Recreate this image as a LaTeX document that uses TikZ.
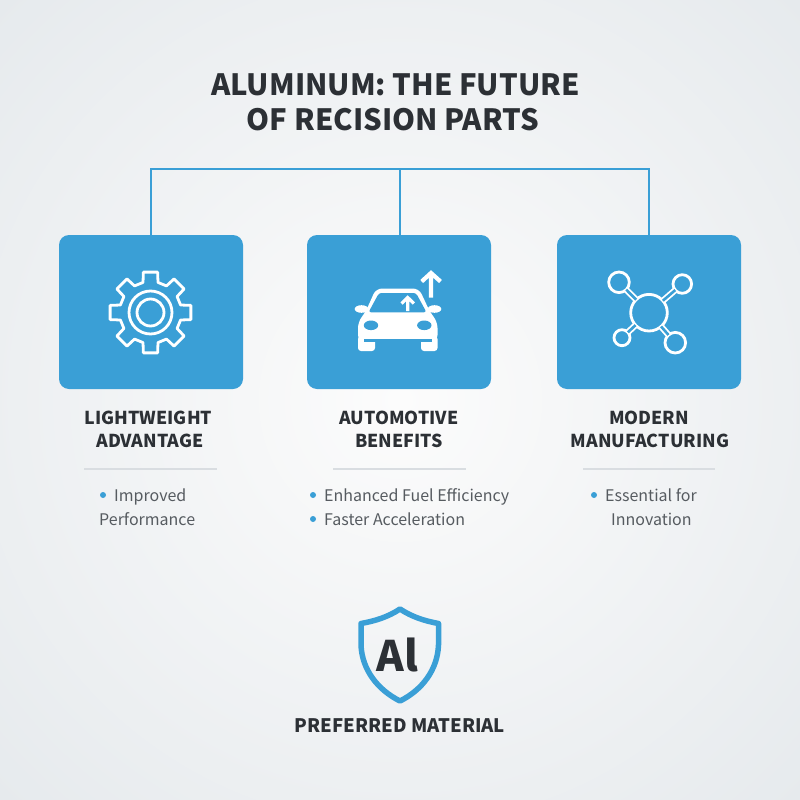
\documentclass[tikz,border=0pt]{standalone}
\usepackage{fontspec}
\setmainfont{Noto Sans CJK KR}
\usetikzlibrary{
    calc,
    positioning
}
\definecolor{alublue}{HTML}{3A9FD6}
\definecolor{aluink}{HTML}{2C3035}
\definecolor{alubody}{HTML}{565B60}
\definecolor{alurule}{HTML}{D9DDE1}
\definecolor{alushade}{HTML}{E6EAED}
\definecolor{alumid}{HTML}{FCFCFC}
\tikzset{
    titletext/.style={anchor=base, inner sep=0pt, text=aluink, font=\fontsize{29.3}{29.3}\selectfont\bfseries},
    headtext/.style={anchor=base, inner sep=0pt, text=aluink, font=\fontsize{17.8}{17.8}\selectfont\bfseries},
    bodytext/.style={anchor=base west, inner sep=0pt, text=alubody, font=\fontsize{16}{16}\selectfont},
    iconbox/.style={rectangle, fill=alublue, rounded corners=10pt, minimum width=184pt, minimum height=154pt, inner sep=0pt, outer sep=0pt},
    bulletdot/.style={circle, fill=alublue, minimum size=6pt, inner sep=0pt},
    iconline/.style={draw=white, line width=2.8pt, line join=round},
    ringnode/.style={circle, draw=white, line width=2.8pt, inner sep=0pt, outer sep=0pt},
    linkline/.style={draw=white, line width=1.8pt, double=alublue, double distance=2.6pt},
    branch/.style={draw=alublue, line width=2pt},
    rulerline/.style={draw=alurule, line width=1.5pt}
}
\begin{document}
\begin{tikzpicture}[x=1pt, y=-1pt]
    \useasboundingbox (0,0) rectangle (800,800);
    \begin{scope}
        \clip (0,0) rectangle (800,800);
        \shade[inner color=alumid, outer color=alushade] (-166,-166) rectangle (966,966);
    \end{scope}
    % title
    \node[titletext] (title1) at (395.5,95) {ALUMINUM: THE FUTURE};
    \node[titletext] (title2) at (393,130) {OF RECISION PARTS};
    % boxes
    \node[iconbox] (lightbox) at (151,312) {};
    \node[iconbox] (autobox) at (399,312) {};
    \node[iconbox] (manubox) at (649,312) {};
    % branch lines
    \coordinate (hub) at (400,169);
    \draw[branch] (lightbox.north) |- (hub) -| (manubox.north);
    \draw[branch] (hub) -- (hub |- autobox.north);
    % gear
    \begin{scope}[shift={(150.5,312.5)}]
        \draw[iconline] (-14:31) \foreach \a in {0,45,...,315} {
            -- (\a-14:31) -- (\a-10:41) -- (\a+10:41) -- (\a+14:31)
        } -- cycle;
        \draw[iconline] (0,0) circle (21.5);
        \draw[iconline] (0,0) circle (13.5);
    \end{scope}
    % car
    \fill[white, rounded corners=6pt] (376,288.5) -- (419,288.5) -- (430,312) -- (437.5,322) -- (437.5,341) -- (358,341) -- (358,322) -- (365.5,312) -- cycle;
    \fill[alublue, rounded corners=2.5pt] (379,293) -- (416,293) -- (426.5,312.3) -- (368.5,312.3) -- cycle;
    \fill[white] (361.5,309) ellipse (6.8 and 3.8);
    \fill[white] (434.5,309) ellipse (6.8 and 3.8);
    \fill[alublue] (371,325.3) ellipse (7.2 and 4.8);
    \fill[alublue] (424.3,325.3) ellipse (7.2 and 4.8);
    \fill[white, rounded corners=3pt] (358,336) rectangle (375,351);
    \fill[white, rounded corners=3pt] (421,336) rectangle (437.5,351);
    \fill[alublue] (364,339.2) rectangle (432,341.8);
    \draw[white, line width=3.2pt] (407.7,311) -- (407.7,298) (401.5,303.5) -- (407.7,297.5) -- (413.9,303.5);
    \draw[white, line width=4.2pt] (431,297.7) -- (431,274) (421.7,281.5) -- (431,273) -- (440.5,281.5);
    % network
    \node[ringnode, minimum size=36.6pt] (hubring) at (649,312.7) {};
    \node[ringnode, minimum size=20.6pt] (ringa) at (619,282.3) {};
    \node[ringnode, minimum size=18.6pt] (ringb) at (682.3,284) {};
    \node[ringnode, minimum size=16pt] (ringc) at (622,337.7) {};
    \node[ringnode, minimum size=20.6pt] (ringd) at (675.3,342.7) {};
    \foreach \r in {ringa,ringb,ringc,ringd} {
        \draw[linkline] (hubring) -- (\r);
    }
    % headings
    \node[headtext] (head1a) at (148.5,424.5) {LIGHTWEIGHT};
    \node[headtext] (head1b) at (150,447.5) {ADVANTAGE};
    \node[headtext] (head2a) at (399,424.5) {AUTOMOTIVE};
    \node[headtext] (head2b) at (399,447.5) {BENEFITS};
    \node[headtext] (head3a) at (649,424.5) {MODERN};
    \node[headtext] (head3b) at (650,447.5) {MANUFACTURING};
    % rulers
    \foreach \x/\w in {84/217, 333/466, 583/715} {
        \draw[rulerline] (\x,469) -- (\w,469);
    }
    % body text
    \node[bulletdot] (dot1) at (103,495) {};
    \node[bodytext] (body1a) at (114,501) {Improved};
    \node[bodytext] (body1b) at (99,525) {Performance};
    \node[bulletdot] (dot2) at (313,495) {};
    \node[bodytext] (body2a) at (324,501) {Enhanced Fuel Efficiency};
    \node[bulletdot] (dot3) at (313,519) {};
    \node[bodytext] (body2b) at (324,525) {Faster Acceleration};
    \node[bulletdot] (dot4) at (594,495) {};
    \node[bodytext] (body3a) at (605,501) {Essential for};
    \node[bodytext] (body3b) at (611,525) {Innovation};
    % shield
    \draw[alublue, line width=5.5pt, line join=round] (400,609) .. controls (388,617) and (375,621) .. (361,623.5) -- (361,645) .. controls (362,670) and (378,690) .. (400,701) .. controls (422,690) and (437.5,670) .. (438.5,645) -- (438.5,623.5) .. controls (425,621) and (412,617) .. (400,609) -- cycle;
    \node[anchor=base, inner sep=0pt, text=aluink, font=\fontsize{42}{42}\selectfont\bfseries] (alsign) at (397.5,671) {Al};
    \node[headtext, font=\fontsize{18.6}{18.6}\selectfont\bfseries] (footer) at (400,732.5) {PREFERRED MATERIAL};
\end{tikzpicture}
\end{document}
